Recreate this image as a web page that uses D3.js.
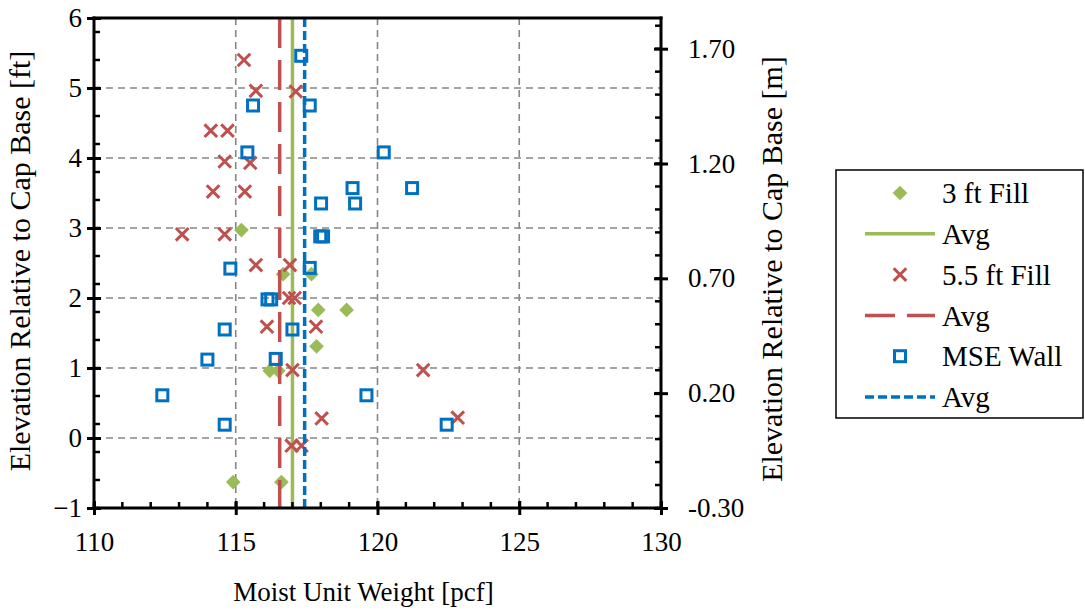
<!DOCTYPE html>
<html>
<head>
<meta charset="utf-8">
<script src="https://cdn.jsdelivr.net/npm/d3@7"></script>
<style>
  html, body { margin: 0; padding: 0; background: #fff; }
  svg { display: block; }
</style>
</head>
<body>
<svg id="chart" width="1085" height="612"></svg>
<script>
// ---- data: [moist unit weight (pcf), elevation relative to cap base (ft)] ----
const fill3 = [
  [115.2, 2.97], [116.67, 2.34], [117.67, 2.34], [117.91, 1.83], [118.91, 1.83],
  [117.85, 1.31], [116.2, 0.96], [116.5, 0.96], [114.91, -0.63], [116.61, -0.63]
];
const fill55 = [
  [115.29, 5.40], [115.71, 4.96], [117.12, 4.95], [114.12, 4.39], [114.71, 4.39],
  [114.61, 3.95], [115.51, 3.93], [114.2, 3.52], [115.32, 3.52], [113.11, 2.91],
  [114.61, 2.91], [115.71, 2.47], [116.91, 2.47], [116.88, 2.0], [117.08, 2.0],
  [116.1, 1.59], [117.83, 1.59], [117.0, 0.97], [121.61, 0.97], [118.03, 0.28],
  [122.83, 0.29], [116.97, -0.11], [117.32, -0.11]
];
const mseWall = [
  [117.31, 5.46], [115.61, 4.75], [117.61, 4.75], [115.41, 4.08], [120.22, 4.08],
  [119.12, 3.57], [121.22, 3.57], [118.01, 3.35], [119.21, 3.35], [117.98, 2.88],
  [118.08, 2.88], [114.81, 2.42], [117.61, 2.43], [116.12, 1.98], [116.25, 1.98],
  [114.61, 1.55], [117.0, 1.55], [114.0, 1.12], [116.41, 1.13], [112.41, 0.61],
  [119.61, 0.61], [114.61, 0.19], [122.44, 0.19]
];
const fill3Avg = 117.0;
const fill55Avg = 116.55;
const mseAvg = 117.43;

const xTicks = [110, 115, 120, 125, 130];
const yTicks = [-1, 0, 1, 2, 3, 4, 5, 6];
const mTickLabels = ["-0.30", "0.20", "0.70", "1.20", "1.70"];
const legendLabels = ["3 ft Fill", "Avg", "5.5 ft Fill", "Avg", "MSE Wall", "Avg"];

const FT_TO_M = 0.3048;
const GREEN = "#9BBB59", RED = "#C0504D", BLUE = "#0070C0";
const FONT = "'Liberation Serif', 'Times New Roman', serif";

// ---- layout ----
const svg = d3.select("#chart");
const L = 94, R = 661, T = 18, B = 508;

const x = d3.scaleLinear().domain([110, 130]).range([L, R]);
const y = d3.scaleLinear().domain([-1, 6]).range([B, T]);
const yM = d3.scaleLinear().domain([-1 * FT_TO_M, 6 * FT_TO_M]).range([B, T]);

// ---- gridlines ----
const grid = svg.append("g").attr("stroke", "#868686").attr("stroke-width", 1.6)
  .attr("stroke-dasharray", "7,5");
grid.selectAll("line.v").data(xTicks.slice(1, -1)).join("line")
  .attr("x1", d => x(d)).attr("x2", d => x(d)).attr("y1", T).attr("y2", B);
grid.selectAll("line.h").data(yTicks.slice(1, -1)).join("line")
  .attr("x1", L).attr("x2", R).attr("y1", d => y(d)).attr("y2", d => y(d));

// ---- marker helpers ----
const diamondPath = d3.symbol(d3.symbolSquare, 108)();
const crossPath = "M-6.3,-6.3L6.3,6.3M-6.3,6.3L6.3,-6.3";
function diamond(g, data) {
  g.selectAll("path").data(data).join("path")
    .attr("d", diamondPath)
    .attr("transform", d => `translate(${x(d[0])},${y(d[1])}) rotate(45)`)
    .attr("fill", GREEN);
}
function cross(g, data) {
  g.selectAll("path").data(data).join("path")
    .attr("d", crossPath)
    .attr("transform", d => `translate(${x(d[0])},${y(d[1])})`)
    .attr("stroke", RED).attr("stroke-width", 3).attr("fill", "none");
}
function square(g, data) {
  g.selectAll("rect").data(data).join("rect")
    .attr("x", d => x(d[0]) - 5.5).attr("y", d => y(d[1]) - 5.5)
    .attr("width", 11).attr("height", 11)
    .attr("fill", "none").attr("stroke", BLUE).attr("stroke-width", 3);
}
function avgLine(g, v, color, dash) {
  g.append("line")
    .attr("x1", x(v)).attr("x2", x(v)).attr("y1", y(6)).attr("y2", y(-1))
    .attr("stroke", color).attr("stroke-width", 3.5)
    .attr("stroke-dasharray", dash);
}

// ---- series (drawn in legend order) ----
const plot = svg.append("g");
diamond(plot.append("g"), fill3);
avgLine(plot.append("g"), fill3Avg, GREEN, null);
cross(plot.append("g"), fill55);
avgLine(plot.append("g"), fill55Avg, RED, "30,12");
square(plot.append("g"), mseWall);
avgLine(plot.append("g"), mseAvg, BLUE, "9,4");

// ---- axes ----
const axisW = 3;
function styleAxis(g) {
  g.attr("font-family", FONT).attr("font-size", 27);
  g.select(".domain").remove();
  g.selectAll(".tick line").attr("stroke", "#000").attr("stroke-width", axisW);
  g.selectAll(".tick text").attr("fill", "#000");
}

// minor ticks (inside only)
const minor = svg.append("g").attr("stroke", "#000").attr("stroke-width", 2.5);
minor.selectAll("line.mx").data(d3.range(110, 130.001, 1)).join("line")
  .attr("x1", d => x(d)).attr("x2", d => x(d)).attr("y1", B).attr("y2", B - 6);
minor.selectAll("line.my").data(d3.range(-1, 6.001, 0.4)).join("line")
  .attr("x1", L).attr("x2", L + 6).attr("y1", d => y(d)).attr("y2", d => y(d));
minor.selectAll("line.mm").data(d3.range(-1 * FT_TO_M, 6 * FT_TO_M + 0.0001, 0.1)).join("line")
  .attr("x1", R).attr("x2", R - 6).attr("y1", d => yM(d)).attr("y2", d => yM(d));

// bottom axis
const gx = svg.append("g").attr("transform", `translate(0,${B})`)
  .call(d3.axisBottom(x).tickValues(xTicks).tickSize(7).tickPadding(17).tickFormat(d3.format("d")));
styleAxis(gx);
gx.selectAll(".tick line").attr("y1", -7);

// left axis
const gy = svg.append("g").attr("transform", `translate(${L},0)`)
  .call(d3.axisLeft(y).tickValues(yTicks).tickSize(7).tickPadding(5).tickFormat(d3.format("d")));
styleAxis(gy);
gy.selectAll(".tick line").attr("x1", 7);

// right axis (metres)
const mTickVals = mTickLabels.map((_, i) => -1 * FT_TO_M + 0.5 * i);
const gr = svg.append("g").attr("transform", `translate(${R},0)`)
  .call(d3.axisRight(yM).tickValues(mTickVals).tickSize(7).tickPadding(20)
    .tickFormat((d, i) => mTickLabels[i]));
styleAxis(gr);
gr.selectAll(".tick line").attr("x1", -7);

// frame lines
const frame = svg.append("g").attr("stroke", "#000").attr("stroke-width", axisW)
  .attr("stroke-linecap", "square");
frame.append("line").attr("x1", L).attr("x2", R).attr("y1", T).attr("y2", T);
frame.append("line").attr("x1", L).attr("x2", R).attr("y1", B).attr("y2", B);
frame.append("line").attr("x1", L).attr("x2", L).attr("y1", T).attr("y2", B);
frame.append("line").attr("x1", R).attr("x2", R).attr("y1", T).attr("y2", B);

// ---- axis titles ----
const titles = svg.append("g").attr("font-family", FONT).attr("fill", "#000");
titles.append("text").attr("x", (L + R) / 2 - 14).attr("y", 601)
  .attr("text-anchor", "middle").attr("font-size", 27)
  .text("Moist Unit Weight [pcf]");
titles.append("text").attr("transform", `translate(30,${(T + B) / 2 - 2}) rotate(-90)`)
  .attr("text-anchor", "middle").attr("font-size", 30)
  .text("Elevation Relative to Cap Base [ft]");
titles.append("text").attr("transform", `translate(782,${(T + B) / 2 + 6}) rotate(-90)`)
  .attr("text-anchor", "middle").attr("font-size", 30)
  .text("Elevation Relative to Cap Base [m]");

// ---- legend ----
const lg = svg.append("g");
lg.append("rect").attr("x", 836).attr("y", 170).attr("width", 247).attr("height", 248)
  .attr("fill", "#fff").attr("stroke", "#000").attr("stroke-width", 1.5);
const rowY = i => 193 + i * 40.8;
const symX = 900, lineX1 = 865, lineX2 = 935, textX = 942;
lg.append("path").attr("d", diamondPath)
  .attr("transform", `translate(${symX},${rowY(0)}) rotate(45)`).attr("fill", GREEN);
lg.append("line").attr("x1", lineX1).attr("x2", lineX2).attr("y1", rowY(1)).attr("y2", rowY(1))
  .attr("stroke", GREEN).attr("stroke-width", 3.5);
lg.append("path").attr("d", crossPath)
  .attr("transform", `translate(${symX},${rowY(2)})`)
  .attr("stroke", RED).attr("stroke-width", 3).attr("fill", "none");
lg.append("line").attr("x1", lineX1).attr("x2", lineX2).attr("y1", rowY(3)).attr("y2", rowY(3))
  .attr("stroke", RED).attr("stroke-width", 3.5).attr("stroke-dasharray", "30,12");
lg.append("rect").attr("x", symX - 5.5).attr("y", rowY(4) - 5.5).attr("width", 11).attr("height", 11)
  .attr("fill", "none").attr("stroke", BLUE).attr("stroke-width", 3);
lg.append("line").attr("x1", lineX1).attr("x2", lineX2).attr("y1", rowY(5)).attr("y2", rowY(5))
  .attr("stroke", BLUE).attr("stroke-width", 3.5).attr("stroke-dasharray", "9,4");
lg.selectAll("text.lab").data(legendLabels).join("text")
  .attr("class", "lab").attr("font-family", FONT).attr("font-size", 29).attr("fill", "#000")
  .attr("x", textX).attr("y", (d, i) => rowY(i)).attr("dy", "0.35em")
  .text(d => d);
</script>
</body>
</html>
